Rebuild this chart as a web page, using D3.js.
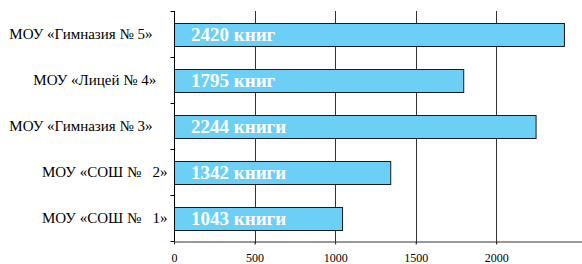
<!DOCTYPE html>
<html><head><meta charset="utf-8">
<script src="https://cdn.jsdelivr.net/npm/d3@7"></script>
<style>body{margin:0;background:#fff}svg{display:block}</style>
</head><body>
<svg id="c" width="582" height="264"></svg>
<script>
const NB = "\u00A0";
const categories = ["МОУ «Гимназия № 5»" + NB+NB+NB+NB, "МОУ «Лицей № 4»" + NB+NB+NB, "МОУ «Гимназия № 3»" + NB+NB+NB+NB, "МОУ «СОШ №" + NB + NB + NB + "2»", "МОУ «СОШ №" + NB + NB + NB + "1»"];
const values = [2420, 1795, 2244, 1342, 1043];
const barLabels = ["2420 книг", "1795 книг", "2244 книги", "1342 книги", "1043 книги"];
const xTicks = [0, 500, 1000, 1500, 2000];

const FONT = "Liberation Serif";
const svg = d3.select("#c");
const m = {l: 174, t: 11, r: 0.5, b: 23};
const W = 582, H = 264;
const x = d3.scaleLinear().domain([0, 2529]).range([m.l, W - m.r]);
const y = d3.scaleBand().domain(categories).range([m.t, H - m.b]).paddingInner(0.5).paddingOuter(0.25);
const band = d3.scaleBand().domain(categories).range([m.t, H - m.b]);

// gridlines
svg.append("g").selectAll("line").data(xTicks.filter(d => d > 0)).join("line")
  .attr("x1", d => Math.round(x(d)) + 0.5).attr("x2", d => Math.round(x(d)) + 0.5)
  .attr("y1", m.t).attr("y2", H - m.b + 3)
  .attr("stroke", "#333").attr("stroke-width", 1);

// bars
svg.append("g").selectAll("rect").data(values).join("rect")
  .attr("x", x(0) + 0.5)
  .attr("y", (d, i) => Math.round(y(categories[i])) + 0.5)
  .attr("width", d => x(d) - x(0))
  .attr("height", y.bandwidth())
  .attr("fill", "#6ccff6")
  .attr("stroke", "#1a1a1a").attr("stroke-width", 1);

// bar labels
svg.append("g").selectAll("text").data(barLabels).join("text")
  .attr("x", x(0) + 17)
  .attr("y", (d, i) => y(categories[i]) + y.bandwidth() / 2 + 6.5)
  .attr("fill", "#fff").attr("font-family", FONT).attr("font-weight", "bold").attr("font-size", 19)
  .text(d => d);

// y axis
const ya = svg.append("g").attr("transform", `translate(${x(0) + 0.5},0)`);
ya.append("line").attr("x1", 0).attr("x2", 0).attr("y1", m.t).attr("y2", H - m.b + 3).attr("stroke", "#000");
const yTickPos = categories.map(c => band(c)).concat([H - m.b]);
ya.selectAll("line.t").data(yTickPos).join("line").attr("class", "t")
  .attr("x1", -4).attr("x2", 0).attr("y1", d => Math.round(d) + 0.5).attr("y2", d => Math.round(d) + 0.5)
  .attr("stroke", "#000");
ya.selectAll("text").data(categories).join("text")
  .attr("x", -7).attr("y", c => band(c) + band.bandwidth() / 2 + 5)
  .attr("text-anchor", "end").attr("font-family", FONT).attr("font-size", 15).attr("fill", "#000")
  .text(c => c);

// x axis
const xa = svg.append("g").attr("transform", `translate(0,${H - m.b + 0.5})`)
  .call(d3.axisBottom(x).tickValues(xTicks).tickFormat(d3.format("d")).tickSize(3).tickSizeOuter(0).tickPadding(9));
xa.attr("font-family", FONT).attr("font-size", 12);
xa.select(".domain").attr("stroke", "#333");
xa.selectAll("text").attr("fill", "#000");
xa.selectAll(".tick line").attr("stroke", "#333");
</script>
</body></html>
